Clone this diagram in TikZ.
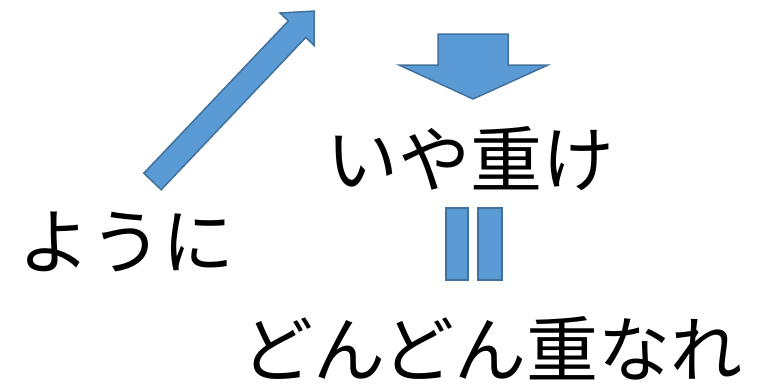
\documentclass[tikz,border=0pt]{standalone}
\usepackage{fontspec}
\usepackage{xcolor}
\usepackage{tikz}
\newfontfamily\jpfont{Noto Sans CJK JP}
\definecolor{arrowfill}{HTML}{5B9BD5}
\definecolor{arrowline}{HTML}{41719C}
\tikzset{
  blockarrow/.style={fill=arrowfill,draw=arrowline,line width=1.5pt,line join=miter},
  jptext/.style={inner sep=0pt,anchor=base,font=\jpfont\fontsize{72}{72}\selectfont}
}

\begin{document}
\begin{tikzpicture}[x=1pt,y=1pt]
  \useasboundingbox (0,0) rectangle (759,384);
  % texts
  \node[jptext] (youni) at (126,116) {ように};
  \node[jptext] (iyakasane) at (470,198) {いや重け};
  \node[jptext] (dondon) at (492,8) {どんどん重なれ};
  % diagonal arrow
  \begin{scope}[shift={(152.5,202.5)},rotate=46.5]
    \draw[blockarrow] (0,-12) -- (210,-12) -- (210,-23.5) -- (235,0) -- (210,23.5) -- (210,12) -- (0,12) -- cycle;
  \end{scope}
  % down arrow
  \draw[blockarrow] (438,350) -- (508,350) -- (508,319) -- (548,319) -- (473,285) -- (399,319) -- (438,319) -- cycle;
  % equals bars
  \draw[blockarrow] (446,176) rectangle (468,104);
  \draw[blockarrow] (478,176) rectangle (502,104);
\end{tikzpicture}
\end{document}
